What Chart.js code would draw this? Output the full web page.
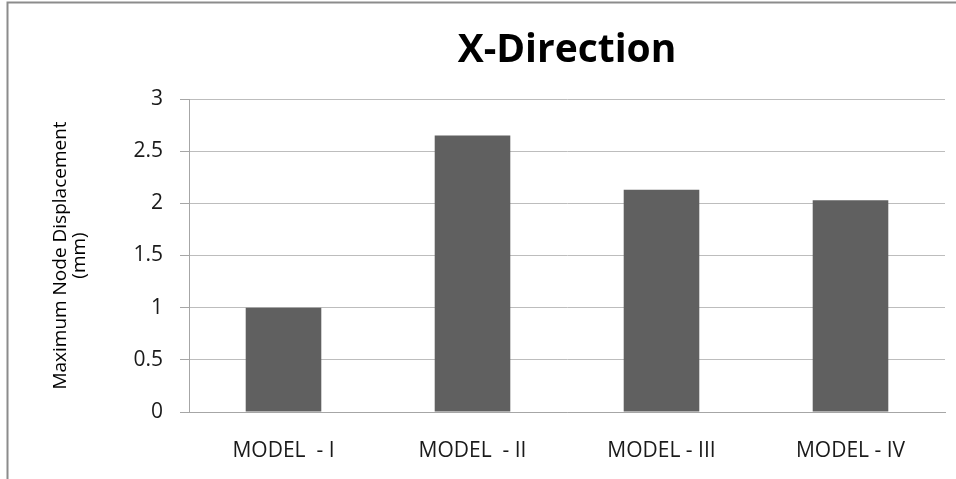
<!DOCTYPE html>
<html>
<head>
<meta charset="utf-8">
<script src="https://cdn.jsdelivr.net/npm/chart.js@4/dist/chart.umd.min.js"></script>
<style>
  html, body { margin: 0; padding: 0; background: #ffffff; }
  #wrap { width: 956px; height: 479px; }
</style>
</head>
<body>
<div id="wrap"><canvas id="chart" width="956" height="479"></canvas></div>
<script>
// Maximum node displacement per model, X direction (mm)
const categories = ['MODEL  - I', 'MODEL  - II', 'MODEL - III', 'MODEL - IV'];
const displacement = [1.0, 2.65, 2.13, 2.03];
const yTicks = [0, 0.5, 1, 1.5, 2, 2.5, 3];
const chartTitle = 'X-Direction';
const yTitle = ['Maximum Node Displacement', '(mm)'];

const FONT = '"Open Sans", "Noto Sans", sans-serif';

// White page with the grey frame lines along the top and left edge
const framePlugin = {
  id: 'frame',
  beforeDraw(chart) {
    const ctx = chart.ctx;
    ctx.save();
    ctx.fillStyle = '#ffffff';
    ctx.fillRect(0, 0, chart.width, chart.height);
    ctx.strokeStyle = '#8c8c8c';
    ctx.lineWidth = 2;
    ctx.beginPath();
    ctx.moveTo(7.5, chart.height);
    ctx.lineTo(7.5, 2.5);
    ctx.lineTo(chart.width, 2.5);
    ctx.stroke();
    ctx.restore();
  }
};

// Title centred over the plot area
const titlePlugin = {
  id: 'plotTitle',
  afterDraw(chart) {
    const {ctx, chartArea} = chart;
    ctx.save();
    ctx.font = 'bold 39px ' + FONT;
    ctx.fillStyle = '#000000';
    ctx.textAlign = 'center';
    ctx.textBaseline = 'alphabetic';
    ctx.fillText(chartTitle, (chartArea.left + chartArea.right) / 2, 62);
    ctx.restore();
  }
};

new Chart(document.getElementById('chart'), {
  type: 'bar',
  data: {
    labels: categories,
    datasets: [{
      data: displacement,
      backgroundColor: '#606060',
      borderWidth: 0,
      barPercentage: 0.4,
      categoryPercentage: 1.0
    }]
  },
  options: {
    responsive: false,
    animation: false,
    devicePixelRatio: 1,
    layout: { padding: { top: 99, right: 11, bottom: 0, left: 0 } },
    plugins: {
      legend: { display: false },
      title: { display: false },
      tooltip: { enabled: false }
    },
    scales: {
      x: {
        grid: { display: false },
        border: { display: true, color: '#a6a6a6', width: 1 },
        ticks: {
          color: '#1a1a1a',
          font: { family: FONT, size: 21 },
          padding: 18,
          maxRotation: 0,
          autoSkip: false
        },
        afterFit(scale) { scale.height = 67; }
      },
      y: {
        min: 0,
        max: 3,
        afterBuildTicks(scale) { scale.ticks = yTicks.map(v => ({ value: v })); },
        grid: {
          color: '#bdbdbd',
          tickColor: '#a6a6a6',
          tickLength: 9,
          drawTicks: true
        },
        border: { display: true, color: '#a6a6a6', width: 1 },
        ticks: {
          color: '#1a1a1a',
          font: { family: FONT, size: 21 },
          padding: 17,
          callback: v => String(v)
        },
        title: {
          display: true,
          text: yTitle,
          color: '#000000',
          font: { family: FONT, size: 19, lineHeight: 1.0 },
          padding: { top: 51, bottom: 0 }
        },
        afterFit(scale) { scale.width = 189; }
      }
    }
  },
  plugins: [framePlugin, titlePlugin]
});
</script>
</body>
</html>
